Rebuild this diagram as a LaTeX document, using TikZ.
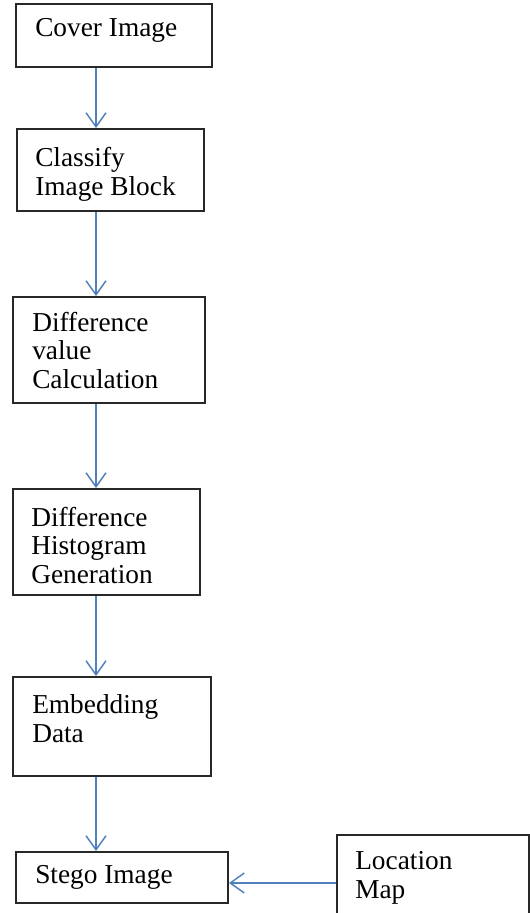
\documentclass[tikz,border=0pt]{standalone}
\usepackage{fontspec}
\setmainfont{Liberation Serif}
\usetikzlibrary{arrows.meta}

\definecolor{flowblue}{RGB}{79,129,189}
\definecolor{boxline}{RGB}{40,40,40}

\tikzset{
  blk/.style={draw=boxline, line width=1.5pt, anchor=north west, inner sep=0pt},
  lbl/.style={anchor=north west, align=left, inner sep=0pt,
    font=\fontsize{20.5pt}{21.4pt}\selectfont},
  flow/.style={draw=flowblue, line width=1.1pt,
    -{Straight Barb[length=10.5pt,width=15pt]}}
}

\begin{document}
\begin{tikzpicture}[x=0.75pt, y=-0.75pt]
        \useasboundingbox (0,0) rectangle (530,913);
        \clip (0,0) rectangle (530,913);

        % Blocos
        \node[blk, minimum width=147pt, minimum height=47.25pt] (cover) at (15,3) {};
        \node[blk, minimum width=140.25pt, minimum height=61.5pt] (classify) at (16,128) {};
        \node[blk, minimum width=144pt, minimum height=79.5pt] (diffcalc) at (12,296) {};
        \node[blk, minimum width=140.25pt, minimum height=79.5pt] (diffhist) at (12,488) {};
        \node[blk, minimum width=148.5pt, minimum height=74.25pt] (embed) at (12,676) {};
        \node[blk, minimum width=159pt, minimum height=38.25pt] (stego) at (15,851) {};
        \node[blk, minimum width=144pt, minimum height=72pt] (locmap) at (336,834) {};

        % Textos
        \node[lbl] (coverlbl) at ([shift={(20,15)}]cover.north west) {Cover Image};
        \node[lbl] (classifylbl) at ([shift={(19,19)}]classify.north west) {Classify\\Image Block};
        \node[lbl] (diffcalclbl) at ([shift={(20,15.5)}]diffcalc.north west) {Difference\\value\\Calculation};
        \node[lbl] (diffhistlbl) at ([shift={(19,18.5)}]diffhist.north west) {Difference\\Histogram\\Generation};
        \node[lbl] (embedlbl) at ([shift={(20,18.5)}]embed.north west) {Embedding\\Data};
        \node[lbl] (stegolbl) at ([shift={(20,14)}]stego.north west) {Stego Image};
        \node[lbl] (locmaplbl) at ([shift={(19,17.5)}]locmap.north west) {Location\\Map};

        % Setas
        \coordinate (spine) at (96,0);
        \draw[flow] (cover.south -| spine) -- (classify.north -| spine);
        \draw[flow] (classify.south -| spine) -- (diffcalc.north -| spine);
        \draw[flow] (diffcalc.south -| spine) -- (diffhist.north -| spine);
        \draw[flow] (diffhist.south -| spine) -- (embed.north -| spine);
        \draw[flow] (embed.south -| spine) -- (stego.north -| spine);
        \draw[flow] (locmap.west) -- (locmap.west -| stego.east);
    \end{tikzpicture}
\end{document}
